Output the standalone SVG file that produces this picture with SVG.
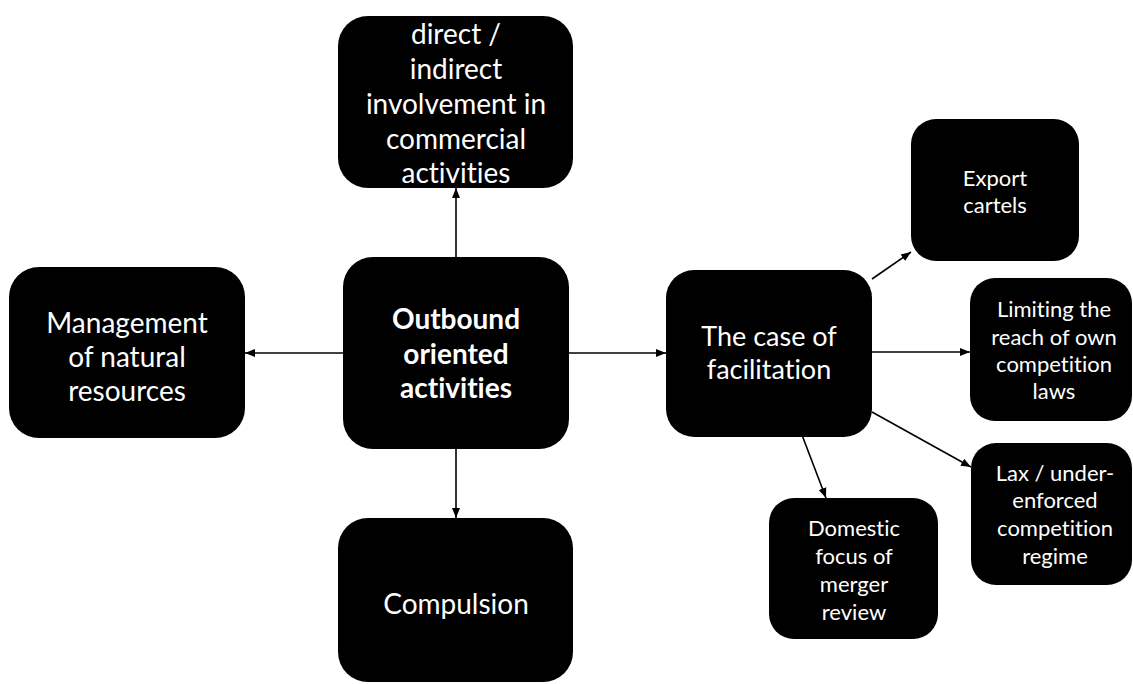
<svg xmlns="http://www.w3.org/2000/svg" width="1133" height="684" viewBox="0 0 1133 684">
<style>
.box{fill:#000;}
.t{fill:#fff;font-family:Lato,"Open Sans",sans-serif;text-anchor:middle;dominant-baseline:central;font-variant-ligatures:none;font-feature-settings:"liga" 0,"clig" 0;}
.big{font-size:28px;}
.mid{font-size:27px;}
.bold{font-size:28px;font-weight:bold;}
.small{font-size:22px;}
.c{stroke:#000;stroke-width:1.6;fill:none;marker-end:url(#ah);}
</style>
<defs>
<marker id="ah" markerUnits="userSpaceOnUse" markerWidth="10" markerHeight="10" viewBox="0 0 10 10" refX="10" refY="5" orient="auto">
<path d="M0,1 L10,5 L0,9 Z" fill="#000"/>
</marker>
</defs>
<rect width="1133" height="684" fill="#fff"/>
<g id="connectors">
<line class="c" x1="456" y1="257" x2="456" y2="188"/>
<line class="c" x1="343" y1="353" x2="245" y2="353"/>
<line class="c" x1="569" y1="353" x2="666" y2="353"/>
<line class="c" x1="456" y1="449" x2="456" y2="518"/>
<line class="c" x1="872" y1="279" x2="911" y2="252"/>
<line class="c" x1="872" y1="352" x2="970" y2="352"/>
<line class="c" x1="872" y1="412" x2="971" y2="467"/>
<line class="c" x1="802" y1="435" x2="826" y2="498"/>
</g>
<g id="top">
<rect class="box" x="338" y="16" width="235" height="172" rx="30"/>
<text class="t big"><tspan x="456" y="33">direct /</tspan><tspan x="456" y="68">indirect</tspan><tspan x="456" y="103">involvement in</tspan><tspan x="456" y="138">commercial</tspan><tspan x="456" y="172">activities</tspan></text>
</g>
<g id="left">
<rect class="box" x="9" y="267" width="236" height="171" rx="30"/>
<text class="t big"><tspan x="127" y="322">Management</tspan><tspan x="127" y="356">of natural</tspan><tspan x="127" y="390">resources</tspan></text>
</g>
<g id="center">
<rect class="box" x="343" y="257" width="226" height="192" rx="30"/>
<text class="t bold"><tspan x="456" y="318">Outbound</tspan><tspan x="456" y="353">oriented</tspan><tspan x="456" y="387">activities</tspan></text>
</g>
<g id="bottom">
<rect class="box" x="338" y="518" width="235" height="164" rx="30"/>
<text class="t big" x="456" y="603">Compulsion</text>
</g>
<g id="facilitation">
<rect class="box" x="666" y="270" width="206" height="167" rx="28"/>
<text class="t mid"><tspan x="769" y="335">The case of</tspan><tspan x="769" y="368">facilitation</tspan></text>
</g>
<g id="export">
<rect class="box" x="911" y="119" width="168" height="142" rx="25"/>
<text class="t small"><tspan x="995" y="177">Export</tspan><tspan x="995" y="204">cartels</tspan></text>
</g>
<g id="limiting">
<rect class="box" x="970" y="278" width="162" height="143" rx="25"/>
<text class="t small"><tspan x="1054" y="308">Limiting the</tspan><tspan x="1054" y="336">reach of own</tspan><tspan x="1054" y="363">competition</tspan><tspan x="1054" y="390">laws</tspan></text>
</g>
<g id="lax">
<rect class="box" x="971" y="443" width="161" height="142" rx="25"/>
<text class="t small"><tspan x="1055" y="472">Lax / under-</tspan><tspan x="1055" y="499">enforced</tspan><tspan x="1055" y="527">competition</tspan><tspan x="1055" y="555">regime</tspan></text>
</g>
<g id="domestic">
<rect class="box" x="769" y="498" width="169" height="141" rx="25"/>
<text class="t small"><tspan x="854" y="527">Domestic</tspan><tspan x="854" y="555">focus of</tspan><tspan x="854" y="583">merger</tspan><tspan x="854" y="611">review</tspan></text>
</g>
</svg>
